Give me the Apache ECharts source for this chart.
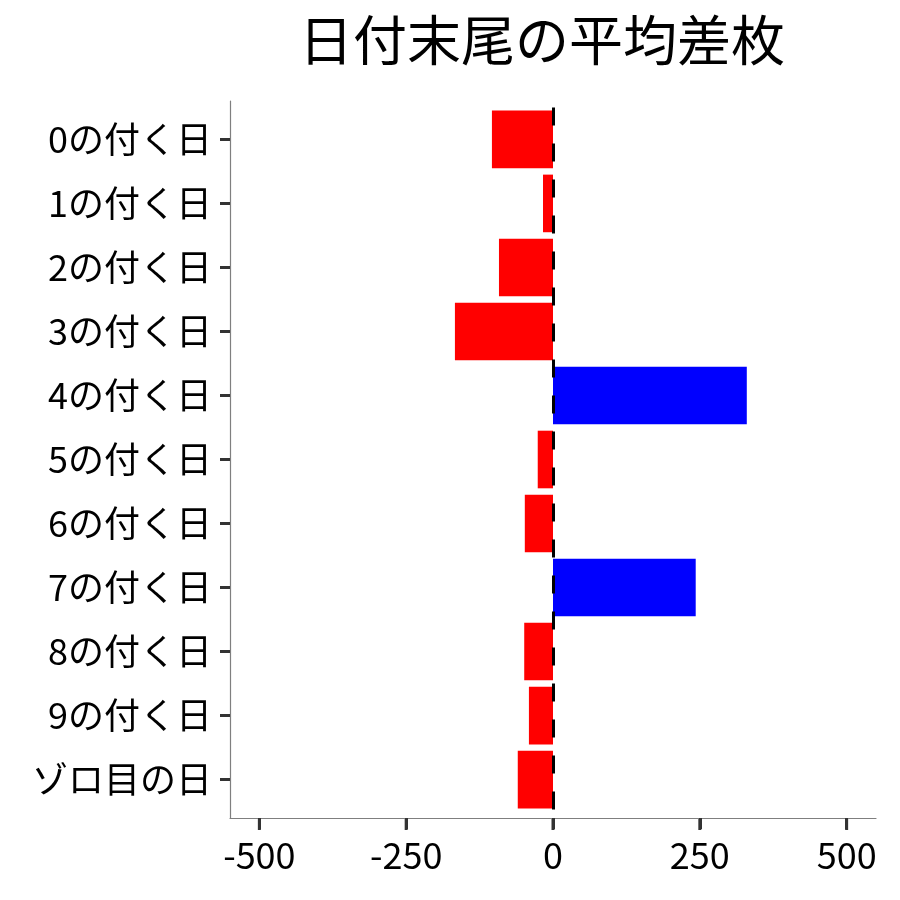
<!doctype html>
<html lang="ja">
<head>
    <meta charset="UTF-8">
    <title>日付末尾の平均差枚</title>
    <script src="https://cdn.jsdelivr.net/npm/echarts@6/dist/echarts.min.js"></script>
    <style>
        html, body { margin: 0; padding: 0; background: #fff; }
        #chart { width: 900px; height: 900px; }
    </style>
</head>
<body>
<div id="chart"></div>
<script>
    // 上から順に並べたカテゴリ
    var categories = ['0の付く日', '1の付く日', '2の付く日', '3の付く日', '4の付く日',
        '5の付く日', '6の付く日', '7の付く日', '8の付く日', '9の付く日', 'ゾロ目の日'];
    // 平均差枚
    var values = [-104, -17, -92, -167, 330, -26, -48, 243, -49, -41, -60];
    var xTicks = [-500, -250, 0, 250, 500];

    var font = '"Noto Sans CJK JP", "Noto Sans", sans-serif';

    var chart = echarts.init(document.getElementById('chart'));
    var option = {
        backgroundColor: '#fff',
        animation: false,
        title: {
            text: '日付末尾の平均差枚',
            left: 537,
            top: 8,
            textAlign: 'center',
            textStyle: { fontFamily: font, fontSize: 54, fontWeight: 'normal', color: '#000' }
        },
        grid: [
            // バー用（ggplotの余白0.6分だけ内側）
            { left: 230, right: 24, top: 107.4, bottom: 88.4 },
            // 軸線・目盛・ラベル用（-550〜550）
            { left: 230, right: 24, top: 101, bottom: 82 }
        ],
        xAxis: [
            { gridIndex: 0, type: 'value', min: -550, max: 550, show: false },
            {
                gridIndex: 1, type: 'value', min: -550, max: 550,
                splitLine: { show: false },
                axisLine: { show: true, onZero: false, lineStyle: { color: '#7f7f7f', width: 1.2 } },
                axisTick: { show: true, length: 11, customValues: xTicks, lineStyle: { color: '#333', width: 3 } },
                axisLabel: { customValues: xTicks, margin: 19, fontFamily: font, fontSize: 36, color: '#000' }
            }
        ],
        yAxis: [
            {
                gridIndex: 0, type: 'category', data: categories, inverse: true,
                axisLine: { show: false, onZero: false },
                axisTick: { show: true, alignWithLabel: true, length: 10, lineStyle: { color: '#333', width: 3 } },
                axisLabel: { margin: 18, fontFamily: font, fontSize: 36, color: '#000' }
            },
            {
                gridIndex: 1, type: 'value', min: 0, max: 1,
                axisLine: { show: true, onZero: false, lineStyle: { color: '#7f7f7f', width: 1.2 } },
                axisTick: { show: false }, axisLabel: { show: false }, splitLine: { show: false }
            }
        ],
        series: [{
            type: 'bar',
            xAxisIndex: 0,
            yAxisIndex: 0,
            data: values,
            barCategoryGap: '10%',
            itemStyle: {
                color: function (p) { return p.value >= 0 ? '#0000ff' : '#ff0000'; }
            },
            markLine: {
                silent: true,
                symbol: 'none',
                label: { show: false },
                lineStyle: { color: '#000', width: 3, type: [18, 18] },
                data: [{ xAxis: 0 }]
            }
        }, {
            // x軸の目盛（下向きの短い線）
            type: 'scatter',
            xAxisIndex: 1,
            yAxisIndex: 1,
            silent: true,
            clip: false,
            z: 10,
            symbol: 'rect',
            symbolSize: [3, 11],
            symbolOffset: [0, 6.5],
            itemStyle: { color: '#333', opacity: 1 },
            data: xTicks.map(function (v) { return [v, 0]; })
        }]
    };
    chart.setOption(option);
</script>
</body>
</html>
